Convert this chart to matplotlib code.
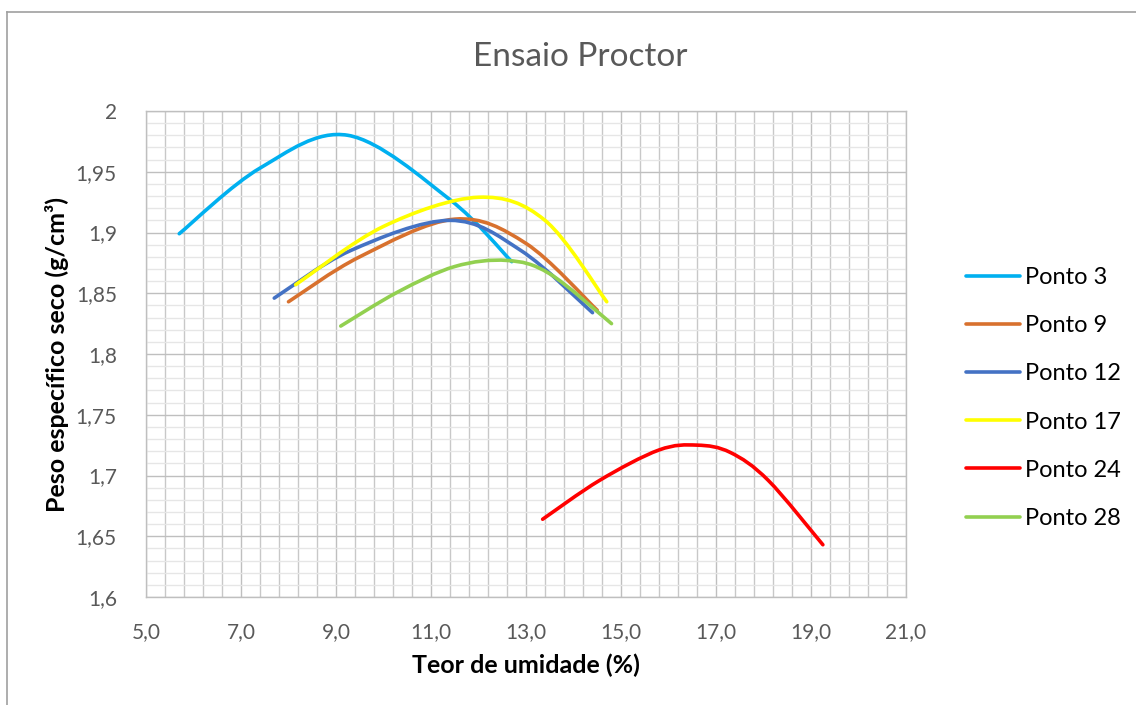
import numpy as np
import matplotlib.pyplot as plt
from matplotlib.path import Path
from matplotlib.patches import PathPatch
from matplotlib.lines import Line2D
from matplotlib.ticker import FixedLocator, MultipleLocator, FuncFormatter

# -----------------------------
# Dados
# -----------------------------
series_names = ['Ponto 3', 'Ponto 9', 'Ponto 12', 'Ponto 17', 'Ponto 24', 'Ponto 28']
series_colors = ['#00B0F0', '#D8712E', '#4472C4', '#FFFF00', '#FF0000', '#92D050']

p3_x = [5.7, 7.4, 9.25, 11.4, 12.7]
p3_y = [1.899, 1.953, 1.980, 1.927, 1.876]

p9_x = [8.0, 9.5, 11.5, 13.0, 14.5]
p9_y = [1.843, 1.880, 1.911, 1.891, 1.836]

p12_x = [7.7, 9.3, 11.4, 12.9, 14.4]
p12_y = [1.846, 1.885, 1.910, 1.885, 1.834]

p17_x = [8.15, 10.0, 12.0, 13.4, 14.7]
p17_y = [1.857, 1.905, 1.929, 1.910, 1.843]

p24_x = [13.35, 14.55, 15.8, 16.6, 17.3, 18.1, 19.25]
p24_y = [1.664, 1.696, 1.721, 1.725, 1.719, 1.696, 1.643]

p28_x = [9.1, 10.3, 11.5, 12.6, 13.5, 14.8]
p28_y = [1.823, 1.851, 1.872, 1.877, 1.866, 1.825]

series_x = [p3_x, p9_x, p12_x, p17_x, p24_x, p28_x]
series_y = [p3_y, p9_y, p12_y, p17_y, p24_y, p28_y]

x_ticks = [5, 7, 9, 11, 13, 15, 17, 19, 21]


def smooth_path(xs, ys):
    # curva suavizada estilo Excel (Bezier cúbica tipo Catmull-Rom)
    pts = np.column_stack([xs, ys])
    n = len(pts)
    verts = [pts[0]]
    codes = [Path.MOVETO]
    for i in range(n - 1):
        p0 = pts[i - 1] if i > 0 else pts[i]
        p1 = pts[i]
        p2 = pts[i + 1]
        p3 = pts[i + 2] if i + 2 < n else pts[i + 1]
        c1 = p1 + (p2 - p0) / 6.0
        c2 = p2 - (p3 - p1) / 6.0
        verts += [c1, c2, p2]
        codes += [Path.CURVE4] * 3
    return Path(verts, codes)


plt.rcParams['font.family'] = ['Lato', 'DejaVu Sans']

fig = plt.figure(figsize=(11.36, 7.05), dpi=100)
ax = fig.add_axes([146 / 1136, 1 - 597 / 705, 760 / 1136, 486 / 705])

handles = []
for xs, ys, nome, cor in zip(series_x, series_y, series_names, series_colors):
    patch = PathPatch(smooth_path(xs, ys), facecolor='none', edgecolor=cor,
                      lw=2.6, capstyle='round', zorder=3)
    ax.add_patch(patch)
    handles.append(Line2D([0], [0], color=cor, lw=2.6, solid_capstyle='round'))

ax.set_xlim(5, 21)
ax.set_ylim(1.6, 2.0)

ax.xaxis.set_major_locator(FixedLocator(x_ticks))
ax.xaxis.set_minor_locator(MultipleLocator(0.4, offset=0.2))
ax.yaxis.set_major_locator(MultipleLocator(0.05))
ax.yaxis.set_minor_locator(MultipleLocator(0.01))

ax.xaxis.set_major_formatter(FuncFormatter(lambda v, p: f'{v:.1f}'.replace('.', ',')))


def fmt_y(v, p):
    s = f'{v:.2f}'.rstrip('0').rstrip('.')
    return s.replace('.', ',')


ax.yaxis.set_major_formatter(FuncFormatter(fmt_y))

ax.grid(True, which='major', color='#BFBFBF', lw=1.0, zorder=0)
ax.grid(True, which='minor', axis='x', color='#C8C8C8', lw=1.0, zorder=0)
ax.grid(True, which='minor', axis='y', color='#E6E6E6', lw=1.0, zorder=0)
ax.set_axisbelow(True)

for s in ax.spines.values():
    s.set_color('#BFBFBF')
    s.set_linewidth(1.0)

ax.tick_params(which='both', length=0, labelsize=15, labelcolor='#595959')
ax.tick_params(axis='x', pad=18)
ax.tick_params(axis='y', pad=21)

ax.set_xlabel('Teor de umidade (%)', fontsize=18, fontweight='bold', labelpad=8)
ax.set_ylabel('Peso específico seco (g/cm³)', fontsize=18, fontweight='bold', labelpad=5)

fig.text(580 / 1136, 1 - 57 / 705, 'Ensaio Proctor', fontsize=24, color='#595959',
         ha='center', va='center')

fig.legend(handles, series_names, loc='center left', bbox_to_anchor=(957 / 1136, 1 - 398 / 705),
           frameon=False, fontsize=17, handlelength=2.25, handletextpad=0.25,
           labelspacing=1.15, borderaxespad=0)

# borda externa
fig.add_artist(Line2D([7 / 1136, 7 / 1136], [0, 1 - 12 / 705], color='#A0A0A0', lw=1.2,
                      transform=fig.transFigure))
fig.add_artist(Line2D([7 / 1136, 1], [1 - 12 / 705, 1 - 12 / 705], color='#A0A0A0', lw=1.2,
                      transform=fig.transFigure))

fig.savefig('out.png', dpi=100, facecolor='white')
plt.close(fig)
